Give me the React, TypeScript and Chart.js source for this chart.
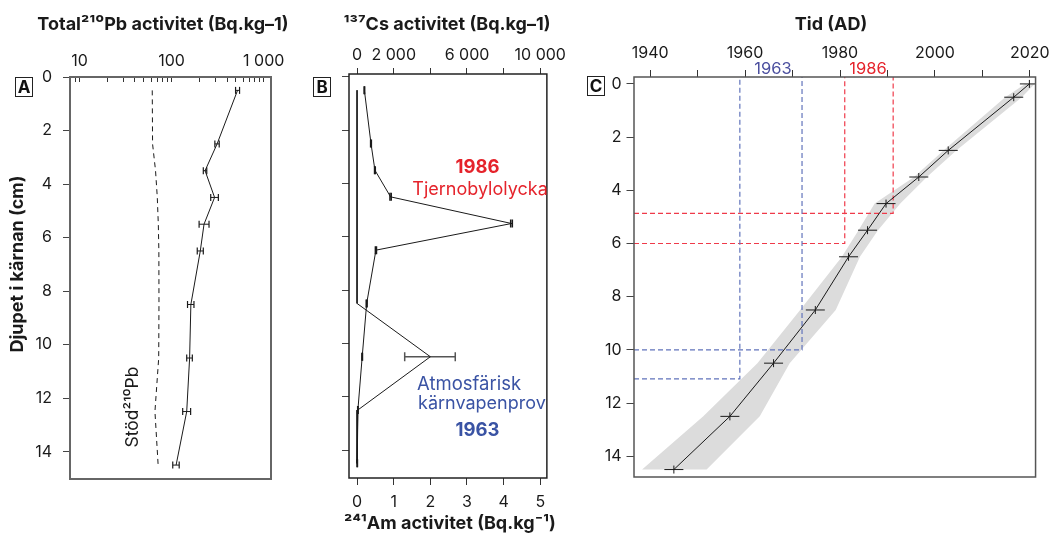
import React, { useEffect, useRef } from 'react';
import { Chart, registerables } from 'chart.js';

Chart.register(...registerables);

const FONT = 'Inter, "Noto Sans", "DejaVu Sans", sans-serif';
Chart.defaults.font.family = FONT;

// ---------- Panel A: total and supported 210Pb ----------
const depthA = [0.5, 2.5, 3.5, 4.5, 5.5, 6.5, 8.5, 10.5, 12.5, 14.5];
const pbTotal = [520, 312, 231, 293, 225, 205, 162, 157, 146, 112];
const pbLow = [495, 295, 221, 266, 199, 190, 149, 146, 132, 103];
const pbHigh = [547, 329, 241, 322, 255, 221, 175, 168, 161, 121];
const pbSupported = [61.7, 62.2, 67, 70, 71.8, 72.8, 73, 72.5, 66, 71.5];
const pbTickValues = [8, 9, 10, 20, 30, 40, 50, 60, 70, 80, 90, 100, 200, 300, 400, 500, 600, 700, 800, 900, 1000];
const pbTickLabels: Record<number, string> = { 10: '10', 100: '100', 1000: '1 000' };

// ---------- Panel B: 137Cs and 241Am ----------
const depthB = [0.5, 2.5, 3.5, 4.5, 5.5, 6.5, 8.5, 10.5, 12.5, 14.5];
const cs137 = [400, 760, 975, 1830, 8430, 1030, 525, 280, 45, 10];
const cs137Err = [15, 20, 20, 35, 45, 30, 25, 15, 10, 10];
const am241 = [0, 0, 0, 0, 0, 0, 0, 2.0, 0.02, 0];
const am241Low = [null, null, null, null, null, null, null, 1.3, null, null];
const am241High = [null, null, null, null, null, null, null, 2.68, null, null];
const csTickValues = [0, 2000, 4000, 6000, 8000, 10000];
const csTickLabels: Record<number, string> = { 0: '0', 2000: '2 000', 6000: '6 000', 10000: '10 000' };
const amTickValues = [0, 1, 2, 3, 4, 5];

// ---------- Panel C: age model ----------
const depthC = [0, 0.5, 2.5, 3.5, 4.5, 5.5, 6.5, 8.5, 10.5, 12.5, 14.5];
const ageYear = [2019.9, 2016.6, 2002.8, 1996.6, 1989.7, 1985.8, 1981.8, 1974.8, 1966.0, 1956.8, 1945.0];
const bandDepth = [0, 0.5, 2.5, 3.5, 4.5, 5.5, 6.5, 8.5, 10.5, 12.5, 14.5];
const bandYoung = [2021.0, 2018.3, 2004.5, 1998.3, 1992.7, 1988.0, 1984.2, 1979.1, 1969.4, 1963.1, 1951.9];
const bandOld = [2019.0, 2014.8, 2001.8, 1995.6, 1987.3, 1983.9, 1980.4, 1971.6, 1962.6, 1951.2, 1938.3];
const markerYear1963 = [1958.9, 1972.0];
const markerDepth1963 = [11.09, 10.0];
const markerYear1986 = [1981.0, 1991.2];
const markerDepth1986 = [6.0, 4.87];
const yearTickValues = [1940, 1950, 1960, 1970, 1980, 1990, 2000, 2010, 2020];
const yearTickLabels: Record<number, string> = { 1940: '1940', 1960: '1960', 1980: '1980', 2000: '2000', 2020: '2020' };
const depthTickValues = [0, 2, 4, 6, 8, 10, 12, 14];

const C_X_MIN = 1936.6;
const C_X_MAX = 2021.2;
const C_Y_MIN = -0.26;
const C_Y_MAX = 14.78;

const INK = '#1a1a1a';
const RED = '#e5232b';
const BLUE = '#3a53a4';

type TextItem = {
  text: string; x: number; y: number; size: number; weight?: string;
  color?: string; rotate?: number; align?: CanvasTextAlign;
};

function decor(id: string, texts: TextItem[], frameColor: string, frameWidth: number,
  letter: { text: string; x: number; y: number; w: number; h: number }) {
  return {
    id,
    afterDraw(chart: any) {
      const ctx = chart.ctx as CanvasRenderingContext2D;
      const a = chart.chartArea;
      ctx.save();
      ctx.strokeStyle = frameColor;
      ctx.lineWidth = frameWidth;
      ctx.strokeRect(a.left, a.top, a.right - a.left, a.bottom - a.top);
      for (const t of texts) {
        ctx.save();
        ctx.font = `${t.weight || 'normal'} ${t.size}px ${FONT}`;
        ctx.fillStyle = t.color || INK;
        ctx.textAlign = t.align || 'center';
        ctx.textBaseline = 'middle';
        ctx.translate(t.x, t.y);
        if (t.rotate) ctx.rotate(t.rotate);
        ctx.fillText(t.text, 0, 0);
        ctx.restore();
      }
      ctx.strokeStyle = '#222';
      ctx.lineWidth = 1;
      ctx.strokeRect(letter.x + 0.5, letter.y + 0.5, letter.w, letter.h);
      ctx.font = `bold 17px ${FONT}`;
      ctx.fillStyle = '#111';
      ctx.textAlign = 'center';
      ctx.textBaseline = 'middle';
      ctx.fillText(letter.text, letter.x + letter.w / 2 + 0.5, letter.y + letter.h / 2 + 1.5);
      ctx.restore();
    },
  };
}

const setTicks = (vals: number[]) => (scale: any) => {
  scale.ticks = vals.map((v) => ({ value: v }));
};

function errorSegments(lo: (number | null)[], hi: (number | null)[], depth: number[]) {
  const pts: any[] = [];
  lo.forEach((l, i) => {
    if (l === null || hi[i] === null) return;
    pts.push({ x: l, y: depth[i] }, { x: hi[i], y: depth[i] }, { x: null, y: null });
  });
  return pts;
}

const tickFont = { size: 16, family: FONT };

function configA(): any {
  return {
    type: 'line',
    data: {
      datasets: [
        {
          data: pbTotal.map((v, i) => ({ x: v, y: depthA[i] })),
          borderColor: INK, borderWidth: 1, pointRadius: 0, order: 2,
        },
        {
          data: errorSegments(pbLow, pbHigh, depthA),
          borderColor: INK, borderWidth: 1, pointStyle: 'line', pointRotation: 90,
          pointRadius: 3.5, pointBorderWidth: 1.2, pointBorderColor: INK, spanGaps: false, order: 1,
        },
        {
          data: pbSupported.map((v, i) => ({ x: v, y: depthA[i] })),
          borderColor: INK, borderWidth: 1, borderDash: [5, 4], pointRadius: 0, order: 3,
        },
      ],
    },
    options: {
      responsive: false, animation: false, devicePixelRatio: 1,
      layout: { padding: { left: 0, right: 29, top: 0, bottom: 55 } },
      plugins: { legend: { display: false }, tooltip: { enabled: false } },
      scales: {
        x: {
          type: 'logarithmic', position: 'top', min: 7.9, max: 1200,
          afterBuildTicks: setTicks(pbTickValues),
          afterFit: (s: any) => { s.height = 77; },
          grid: { drawOnChartArea: false, drawTicks: true, tickLength: -5, color: '#333' },
          border: { display: false },
          ticks: {
            autoSkip: false, maxRotation: 0, padding: 10.9, color: INK, font: tickFont,
            callback: (v: any) => pbTickLabels[Number(v)] ?? '',
          },
        },
        y: {
          type: 'linear', reverse: true, min: 0, max: 15.02,
          afterBuildTicks: setTicks(depthTickValues),
          afterFit: (s: any) => { s.width = 70; },
          grid: { drawOnChartArea: false, drawTicks: true, tickLength: 7, color: '#444' },
          border: { display: false },
          ticks: { autoSkip: false, padding: 11, color: INK, font: tickFont, callback: (v: any) => String(v) },
        },
      },
    },
    plugins: [decor('decorA', [
      { text: 'Total²¹⁰Pb activitet (Bq.kg–1)', x: 163, y: 25, size: 18, weight: 'bold' },
      { text: 'Djupet i kärnan (cm)', x: 18, y: 264, size: 18, weight: 'bold', rotate: -Math.PI / 2 },
      { text: 'Stöd²¹⁰Pb', x: 133, y: 407, size: 17.5, rotate: -Math.PI / 2 },
    ], '#666', 2, { text: 'A', x: 15, y: 77, w: 17, h: 19 })],
  };
}

function configB(): any {
  return {
    type: 'line',
    data: {
      datasets: [
        {
          data: cs137.map((v, i) => ({ x: v, y: depthB[i] })),
          xAxisID: 'xCs', yAxisID: 'y',
          borderColor: INK, borderWidth: 1, pointRadius: 0, order: 2,
        },
        {
          data: errorSegments(cs137.map((v, i) => v - cs137Err[i]), cs137.map((v, i) => v + cs137Err[i]), depthB),
          xAxisID: 'xCs', yAxisID: 'y',
          borderColor: INK, borderWidth: 1, pointStyle: 'line', pointRotation: 90,
          pointRadius: 4, pointBorderWidth: 1.5, pointBorderColor: INK, order: 1,
        },
        {
          data: am241.map((v, i) => ({ x: v, y: depthB[i] })),
          xAxisID: 'xAm', yAxisID: 'y',
          borderColor: INK, borderWidth: 1, pointRadius: 0, order: 2,
        },
        {
          data: errorSegments(am241Low, am241High, depthB),
          xAxisID: 'xAm', yAxisID: 'y',
          borderColor: '#555', borderWidth: 1.5, pointStyle: 'line', pointRotation: 90,
          pointRadius: 4.5, pointBorderWidth: 1.5, pointBorderColor: '#555', order: 3,
        },
      ],
    },
    options: {
      responsive: false, animation: false, devicePixelRatio: 1,
      layout: { padding: { left: 0, right: 19, top: 0, bottom: 0 } },
      plugins: { legend: { display: false }, tooltip: { enabled: false } },
      scales: {
        xCs: {
          type: 'linear', position: 'top', min: -440, max: 10360,
          afterBuildTicks: setTicks(csTickValues),
          afterFit: (s: any) => { s.height = 74; },
          grid: { drawOnChartArea: false, drawTicks: true, tickLength: 6, color: '#333' },
          border: { display: false },
          ticks: {
            autoSkip: false, maxRotation: 0, padding: 3.4, color: INK, font: tickFont,
            callback: (v: any) => csTickLabels[Number(v)] ?? '',
          },
        },
        xAm: {
          type: 'linear', position: 'bottom', min: -0.22, max: 5.18,
          afterBuildTicks: setTicks(amTickValues),
          afterFit: (s: any) => { s.height = 56; },
          grid: { drawOnChartArea: false, drawTicks: true, tickLength: 7, color: '#333' },
          border: { display: false },
          ticks: { autoSkip: false, maxRotation: 0, padding: 7.9, color: INK, font: tickFont, callback: (v: any) => String(v) },
        },
        y: {
          type: 'linear', reverse: true, min: -0.11, max: 15.05,
          afterBuildTicks: setTicks(depthTickValues),
          afterFit: (s: any) => { s.width = 49; },
          grid: { drawOnChartArea: false, drawTicks: true, tickLength: 7, color: '#444' },
          border: { display: false },
          ticks: { display: false },
        },
      },
    },
    plugins: [decor('decorB', [
      { text: '¹³⁷Cs activitet (Bq.kg–1)', x: 147, y: 25, size: 18, weight: 'bold' },
      { text: '²⁴¹Am activitet (Bq.kg⁻¹)', x: 150, y: 524, size: 18, weight: 'bold' },
      { text: '1986', x: 177.5, y: 167, size: 18.5, weight: 'bold', color: RED },
      { text: 'Tjernobylolycka', x: 180, y: 190, size: 18, color: RED },
      { text: 'Atmosfärisk', x: 117, y: 384, size: 18.5, color: BLUE, align: 'left' },
      { text: 'kärnvapenprov', x: 118, y: 404, size: 18, color: BLUE, align: 'left' },
      { text: '1963', x: 177.5, y: 430, size: 18.5, weight: 'bold', color: BLUE },
    ], '#222', 1.5, { text: 'B', x: 13, y: 77, w: 17, h: 19 })],
  };
}

function lShape(year: number, depth: number) {
  return [{ x: C_X_MIN, y: depth }, { x: year, y: depth }, { x: year, y: C_Y_MIN }];
}

function configC(): any {
  const band = [
    ...bandOld.map((x, i) => ({ x, y: bandDepth[i] })),
    ...bandYoung.map((x, i) => ({ x, y: bandDepth[i] })).reverse(),
  ];
  const dashed = [
    ...markerYear1963.map((yr, i) => ({ data: lShape(yr, markerDepth1963[i]), color: '#6073bb' })),
    ...markerYear1986.map((yr, i) => ({ data: lShape(yr, markerDepth1986[i]), color: '#ef3a4a' })),
  ].map((d) => ({
    data: d.data, borderColor: d.color, borderWidth: 1.2, borderDash: [5, 3], pointRadius: 0, order: 5,
  }));
  return {
    type: 'line',
    data: {
      datasets: [
        {
          data: band, fill: 'shape', backgroundColor: '#dcdcdc',
          borderColor: 'rgba(0,0,0,0)', borderWidth: 0, pointRadius: 0, order: 10,
        },
        ...dashed,
        {
          data: ageYear.map((x, i) => ({ x, y: depthC[i] })),
          borderColor: INK, borderWidth: 1, pointRadius: 0, order: 3,
        },
        {
          data: ageYear.map((x, i) => ({ x, y: depthC[i] })), showLine: false,
          pointStyle: 'line', pointRadius: 9.5, pointBorderWidth: 1, pointBorderColor: INK, order: 1,
        },
        {
          data: ageYear.map((x, i) => ({ x, y: depthC[i] })), showLine: false,
          pointStyle: 'line', pointRotation: 90, pointRadius: 4, pointBorderWidth: 1, pointBorderColor: INK, order: 1,
        },
      ],
    },
    options: {
      responsive: false, animation: false, devicePixelRatio: 1,
      layout: { padding: { left: 0, right: 13, top: 0, bottom: 57 } },
      plugins: { legend: { display: false }, tooltip: { enabled: false } },
      scales: {
        x: {
          type: 'linear', position: 'top', min: C_X_MIN, max: C_X_MAX,
          afterBuildTicks: setTicks(yearTickValues),
          afterFit: (s: any) => { s.height = 77; },
          grid: { drawOnChartArea: false, drawTicks: true, tickLength: 7, color: '#333' },
          border: { display: false },
          ticks: {
            autoSkip: false, maxRotation: 0, padding: 7.1, color: INK, font: tickFont,
            callback: (v: any) => yearTickLabels[Number(v)] ?? '',
          },
        },
        y: {
          type: 'linear', reverse: true, min: C_Y_MIN, max: C_Y_MAX,
          afterBuildTicks: setTicks(depthTickValues),
          afterFit: (s: any) => { s.width = 54; },
          grid: { drawOnChartArea: false, drawTicks: true, tickLength: 7.5, color: '#444' },
          border: { display: false },
          ticks: { autoSkip: false, padding: 5, color: INK, font: tickFont, callback: (v: any) => String(v) },
        },
      },
    },
    plugins: [decor('decorC', [
      { text: 'Tid (AD)', x: 251, y: 25, size: 18, weight: 'bold' },
      { text: '1963', x: 193, y: 69, size: 16.5, color: '#4b4f9f' },
      { text: '1986', x: 288, y: 69, size: 16.5, color: RED },
    ], '#555', 1.5, { text: 'C', x: 7, y: 76, w: 17, h: 19 })],
  };
}

export default function App() {
  const refA = useRef<HTMLCanvasElement>(null);
  const refB = useRef<HTMLCanvasElement>(null);
  const refC = useRef<HTMLCanvasElement>(null);

  useEffect(() => {
    const charts: Chart[] = [];
    if (refA.current) charts.push(new Chart(refA.current, configA()));
    if (refB.current) charts.push(new Chart(refB.current, configB()));
    if (refC.current) charts.push(new Chart(refC.current, configC()));
    return () => charts.forEach((c) => c.destroy());
  }, []);

  const base: React.CSSProperties = { position: 'absolute', top: 0 };
  return (
    <div style={{ position: 'absolute', left: 0, top: 0, width: 1057, height: 534, background: '#fff', overflow: 'hidden' }}>
      <canvas ref={refA} width={300} height={534} style={{ ...base, left: 0, width: 300, height: 534 }} />
      <canvas ref={refB} width={270} height={534} style={{ ...base, left: 300, width: 270, height: 534 }} />
      <canvas ref={refC} width={477} height={534} style={{ ...base, left: 580, width: 477, height: 534 }} />
    </div>
  );
}
